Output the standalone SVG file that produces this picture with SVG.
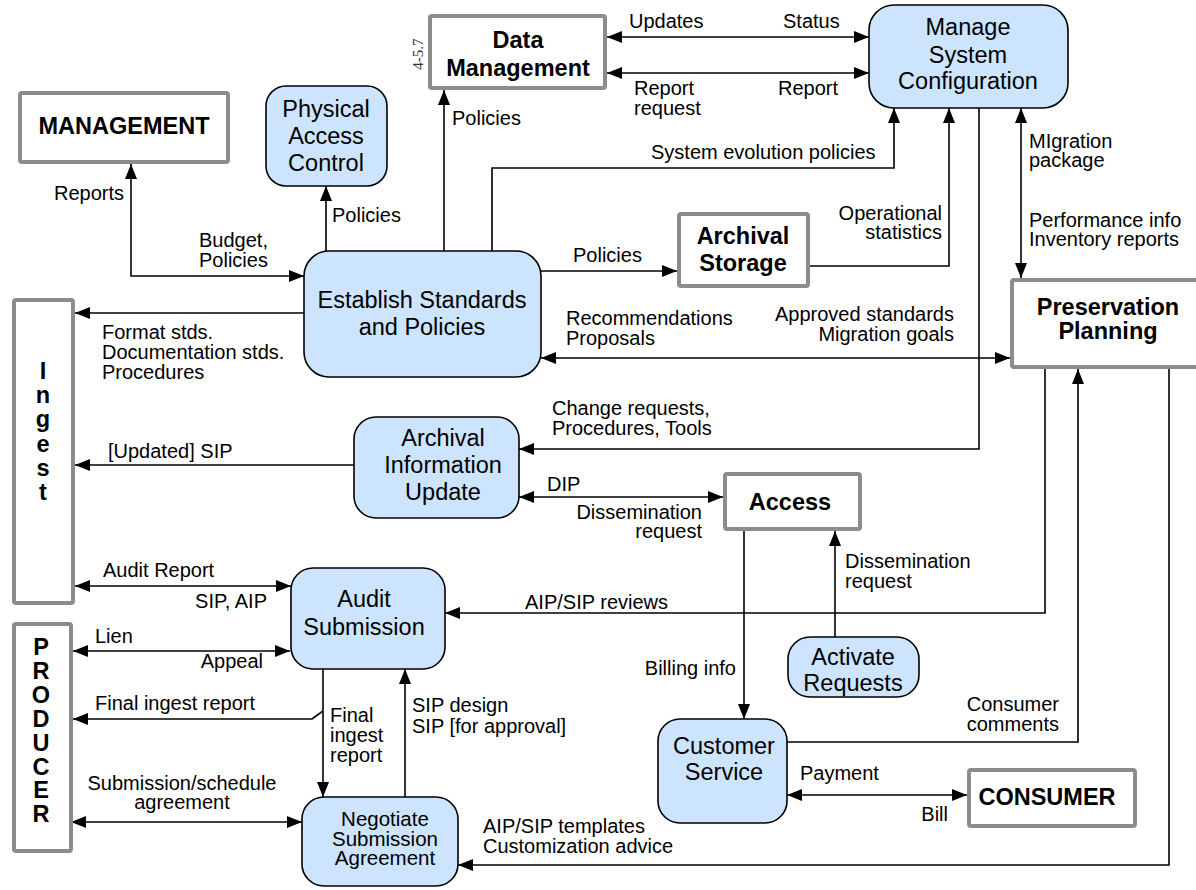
<svg xmlns="http://www.w3.org/2000/svg" width="1196" height="890" viewBox="0 0 1196 890">
<defs>
<marker id="ah" viewBox="0 0 15 12" refX="15" refY="6" markerWidth="15" markerHeight="12" markerUnits="userSpaceOnUse" orient="auto-start-reverse">
<path d="M0,0 L15,6 L0,12 z" fill="#000"/>
</marker>
<style>
.ext{fill:#fff;stroke:#8c8c8c;stroke-width:4}
.proc{fill:#cce4fd;stroke:#000;stroke-width:1.6}
.bt{font-family:"Liberation Sans",Arial,sans-serif;font-weight:bold;font-size:23.5px;text-anchor:middle;fill:#000}
.nt{font-family:"Liberation Sans",Arial,sans-serif;font-size:23.5px;text-anchor:middle;fill:#000}
.lb{font-family:"Liberation Sans",Arial,sans-serif;font-size:20px;fill:#000}
.e{text-anchor:end}
.m{text-anchor:middle}
.c path{fill:none;stroke:#000;stroke-width:1.6}
.one{marker-end:url(#ah)}
.two{marker-start:url(#ah);marker-end:url(#ah)}
</style>
</defs>
<rect width="1196" height="890" fill="#fff"/>

<g id="connectors" class="c">
<path class="two" d="M131,164 L131,276 L304,276"/>
<path class="one" d="M326,251 L326,186"/>
<path class="one" d="M444,251 L444,90"/>
<path class="one" d="M492,251 L492,168 L894,168 L894,108"/>
<path class="two" d="M607,37 L869,37"/>
<path class="two" d="M607,73 L869,73"/>
<path class="one" d="M541,271 L677,271"/>
<path class="one" d="M810,266 L949,266 L949,108"/>
<path class="two" d="M1021,108 L1021,278"/>
<path class="one" d="M979,108 L979,449 L519,449"/>
<path class="two" d="M541,358 L1010,358"/>
<path class="one" d="M304,313 L75,313"/>
<path class="one" d="M354,465 L75,465"/>
<path class="two" d="M519,497 L723,497"/>
<path class="two" d="M75,586 L291,586"/>
<path class="two" d="M73,651 L290,651"/>
<path class="one" d="M323,711 L312,719 L73,719"/>
<path class="one" d="M323,669 L323,797"/>
<path class="one" d="M405,797 L405,669"/>
<path class="two" d="M71,822 L302,822"/>
<path class="one" d="M1045,369 L1045,613 L445,613"/>
<path class="one" d="M744,531 L744,719"/>
<path class="one" d="M835,637 L835,531"/>
<path class="one" d="M787,742 L1078,742 L1078,369"/>
<path class="two" d="M787,795 L967,795"/>
<path class="one" d="M1169,369 L1169,865 L458,865"/>
</g>

<g id="labels">
<text class="lb e" x="124" y="200">Reports</text>
<text class="lb" x="199" y="247">Budget,</text>
<text class="lb" x="199" y="267">Policies</text>
<text class="lb" x="332" y="222">Policies</text>
<text class="lb" x="452" y="125">Policies</text>
<text class="lb" x="651" y="159">System evolution policies</text>
<text class="lb" x="629" y="28">Updates</text>
<text class="lb" x="783" y="28">Status</text>
<text class="lb" x="634" y="95">Report</text>
<text class="lb" x="634" y="115">request</text>
<text class="lb" x="778" y="95">Report</text>
<text class="lb" x="573" y="262">Policies</text>
<text class="lb e" x="942" y="220">Operational</text>
<text class="lb e" x="942" y="239">statistics</text>
<text class="lb" x="1029" y="148">MIgration</text>
<text class="lb" x="1029" y="167">package</text>
<text class="lb" x="1029" y="227">Performance info</text>
<text class="lb" x="1029" y="246">Inventory reports</text>
<text class="lb" x="552" y="415">Change requests,</text>
<text class="lb" x="552" y="435">Procedures, Tools</text>
<text class="lb" x="566" y="325">Recommendations</text>
<text class="lb" x="566" y="345">Proposals</text>
<text class="lb e" x="954" y="321">Approved standards</text>
<text class="lb e" x="954" y="341">Migration goals</text>
<text class="lb" x="102" y="339">Format stds.</text>
<text class="lb" x="102" y="359">Documentation stds.</text>
<text class="lb" x="102" y="379">Procedures</text>
<text class="lb" x="108" y="458">[Updated] SIP</text>
<text class="lb" x="547" y="491">DIP</text>
<text class="lb e" x="702" y="519">Dissemination</text>
<text class="lb e" x="702" y="538">request</text>
<text class="lb" x="103" y="577">Audit Report</text>
<text class="lb e" x="267" y="608">SIP, AIP</text>
<text class="lb" x="95" y="643">Lien</text>
<text class="lb e" x="263" y="668">Appeal</text>
<text class="lb" x="95" y="710">Final ingest report</text>
<text class="lb" x="330" y="722">Final</text>
<text class="lb" x="330" y="742">ingest</text>
<text class="lb" x="330" y="762">report</text>
<text class="lb" x="412" y="712">SIP design</text>
<text class="lb" x="412" y="733">SIP [for approval]</text>
<text class="lb m" x="182" y="790">Submission/schedule</text>
<text class="lb m" x="182" y="809">agreement</text>
<text class="lb" x="525" y="609">AIP/SIP reviews</text>
<text class="lb e" x="736" y="675">Billing info</text>
<text class="lb" x="845" y="568">Dissemination</text>
<text class="lb" x="845" y="588">request</text>
<text class="lb e" x="1059" y="711">Consumer</text>
<text class="lb e" x="1059" y="731">comments</text>
<text class="lb" x="800" y="780">Payment</text>
<text class="lb e" x="948" y="821">Bill</text>
<text class="lb" x="483" y="833">AIP/SIP templates</text>
<text class="lb" x="483" y="853">Customization advice</text>
</g>

<g id="management">
<rect class="ext" x="20" y="93" width="208" height="69" rx="2"/>
<text class="bt" x="124" y="134">MANAGEMENT</text>
</g>
<g id="data-management">
<rect class="ext" x="430" y="16" width="175" height="72" rx="2"/>
<text class="bt" x="518" y="48">Data</text>
<text class="bt" x="518" y="76">Management</text>
<text x="423" y="54" transform="rotate(-90 423 54)" font-family="'Liberation Serif',serif" font-size="15" text-anchor="middle" fill="#333">4-5.7</text>
</g>
<g id="archival-storage">
<rect class="ext" x="679" y="214" width="129" height="72" rx="2"/>
<text class="bt" x="743" y="244">Archival</text>
<text class="bt" x="743" y="271">Storage</text>
</g>
<g id="preservation-planning">
<rect class="ext" x="1012" y="280" width="200" height="87" rx="2"/>
<text class="bt" x="1108" y="315">Preservation</text>
<text class="bt" x="1108" y="339">Planning</text>
</g>
<g id="access">
<rect class="ext" x="725" y="474" width="135" height="55" rx="2"/>
<text class="bt" x="790" y="510">Access</text>
</g>
<g id="consumer">
<rect class="ext" x="969" y="770" width="166" height="56" rx="2"/>
<text class="bt" x="1047" y="805">CONSUMER</text>
</g>
<g id="ingest">
<rect class="ext" x="14" y="300" width="59" height="303" rx="2"/>
<text class="bt" x="43" y="379">I</text>
<text class="bt" x="43" y="403">n</text>
<text class="bt" x="43" y="427">g</text>
<text class="bt" x="43" y="452">e</text>
<text class="bt" x="43" y="476">s</text>
<text class="bt" x="43" y="500">t</text>
</g>
<g id="producer">
<rect class="ext" x="14" y="624" width="57" height="227" rx="2"/>
<text class="bt" x="41" y="655">P</text>
<text class="bt" x="41" y="679">R</text>
<text class="bt" x="41" y="703">O</text>
<text class="bt" x="41" y="727">D</text>
<text class="bt" x="41" y="751">U</text>
<text class="bt" x="41" y="775">C</text>
<text class="bt" x="41" y="798">E</text>
<text class="bt" x="41" y="822">R</text>
</g>

<g id="physical-access-control">
<rect class="proc" x="266" y="86" width="121" height="100" rx="20"/>
<text class="nt" x="326" y="117">Physical</text>
<text class="nt" x="326" y="144">Access</text>
<text class="nt" x="326" y="171">Control</text>
</g>
<g id="manage-system-configuration">
<rect class="proc" x="869" y="5" width="199" height="103" rx="25"/>
<text class="nt" x="968" y="35">Manage</text>
<text class="nt" x="968" y="63">System</text>
<text class="nt" x="968" y="89">Configuration</text>
</g>
<g id="establish-standards">
<rect class="proc" x="304" y="251" width="237" height="126" rx="25"/>
<text class="nt" x="422" y="308">Establish Standards</text>
<text class="nt" x="422" y="335">and Policies</text>
</g>
<g id="archival-information-update">
<rect class="proc" x="354" y="417" width="165" height="101" rx="22"/>
<text class="nt" x="443" y="446">Archival</text>
<text class="nt" x="443" y="473">Information</text>
<text class="nt" x="443" y="500">Update</text>
</g>
<g id="audit-submission">
<rect class="proc" x="291" y="568" width="154" height="101" rx="22"/>
<text class="nt" x="364" y="607">Audit</text>
<text class="nt" x="364" y="635">Submission</text>
</g>
<g id="negotiate-submission-agreement">
<rect class="proc" x="302" y="797" width="156" height="89" rx="22"/>
<text class="nt" x="385" y="826" style="font-size:20.5px">Negotiate</text>
<text class="nt" x="385" y="846" style="font-size:20.5px">Submission</text>
<text class="nt" x="385" y="865" style="font-size:20.5px">Agreement</text>
</g>
<g id="customer-service">
<rect class="proc" x="658" y="719" width="129" height="104" rx="22"/>
<text class="nt" x="724" y="754">Customer</text>
<text class="nt" x="724" y="780">Service</text>
</g>
<g id="activate-requests">
<rect class="proc" x="788" y="637" width="131" height="60" rx="22"/>
<text class="nt" x="853" y="665">Activate</text>
<text class="nt" x="853" y="691">Requests</text>
</g>
</svg>
